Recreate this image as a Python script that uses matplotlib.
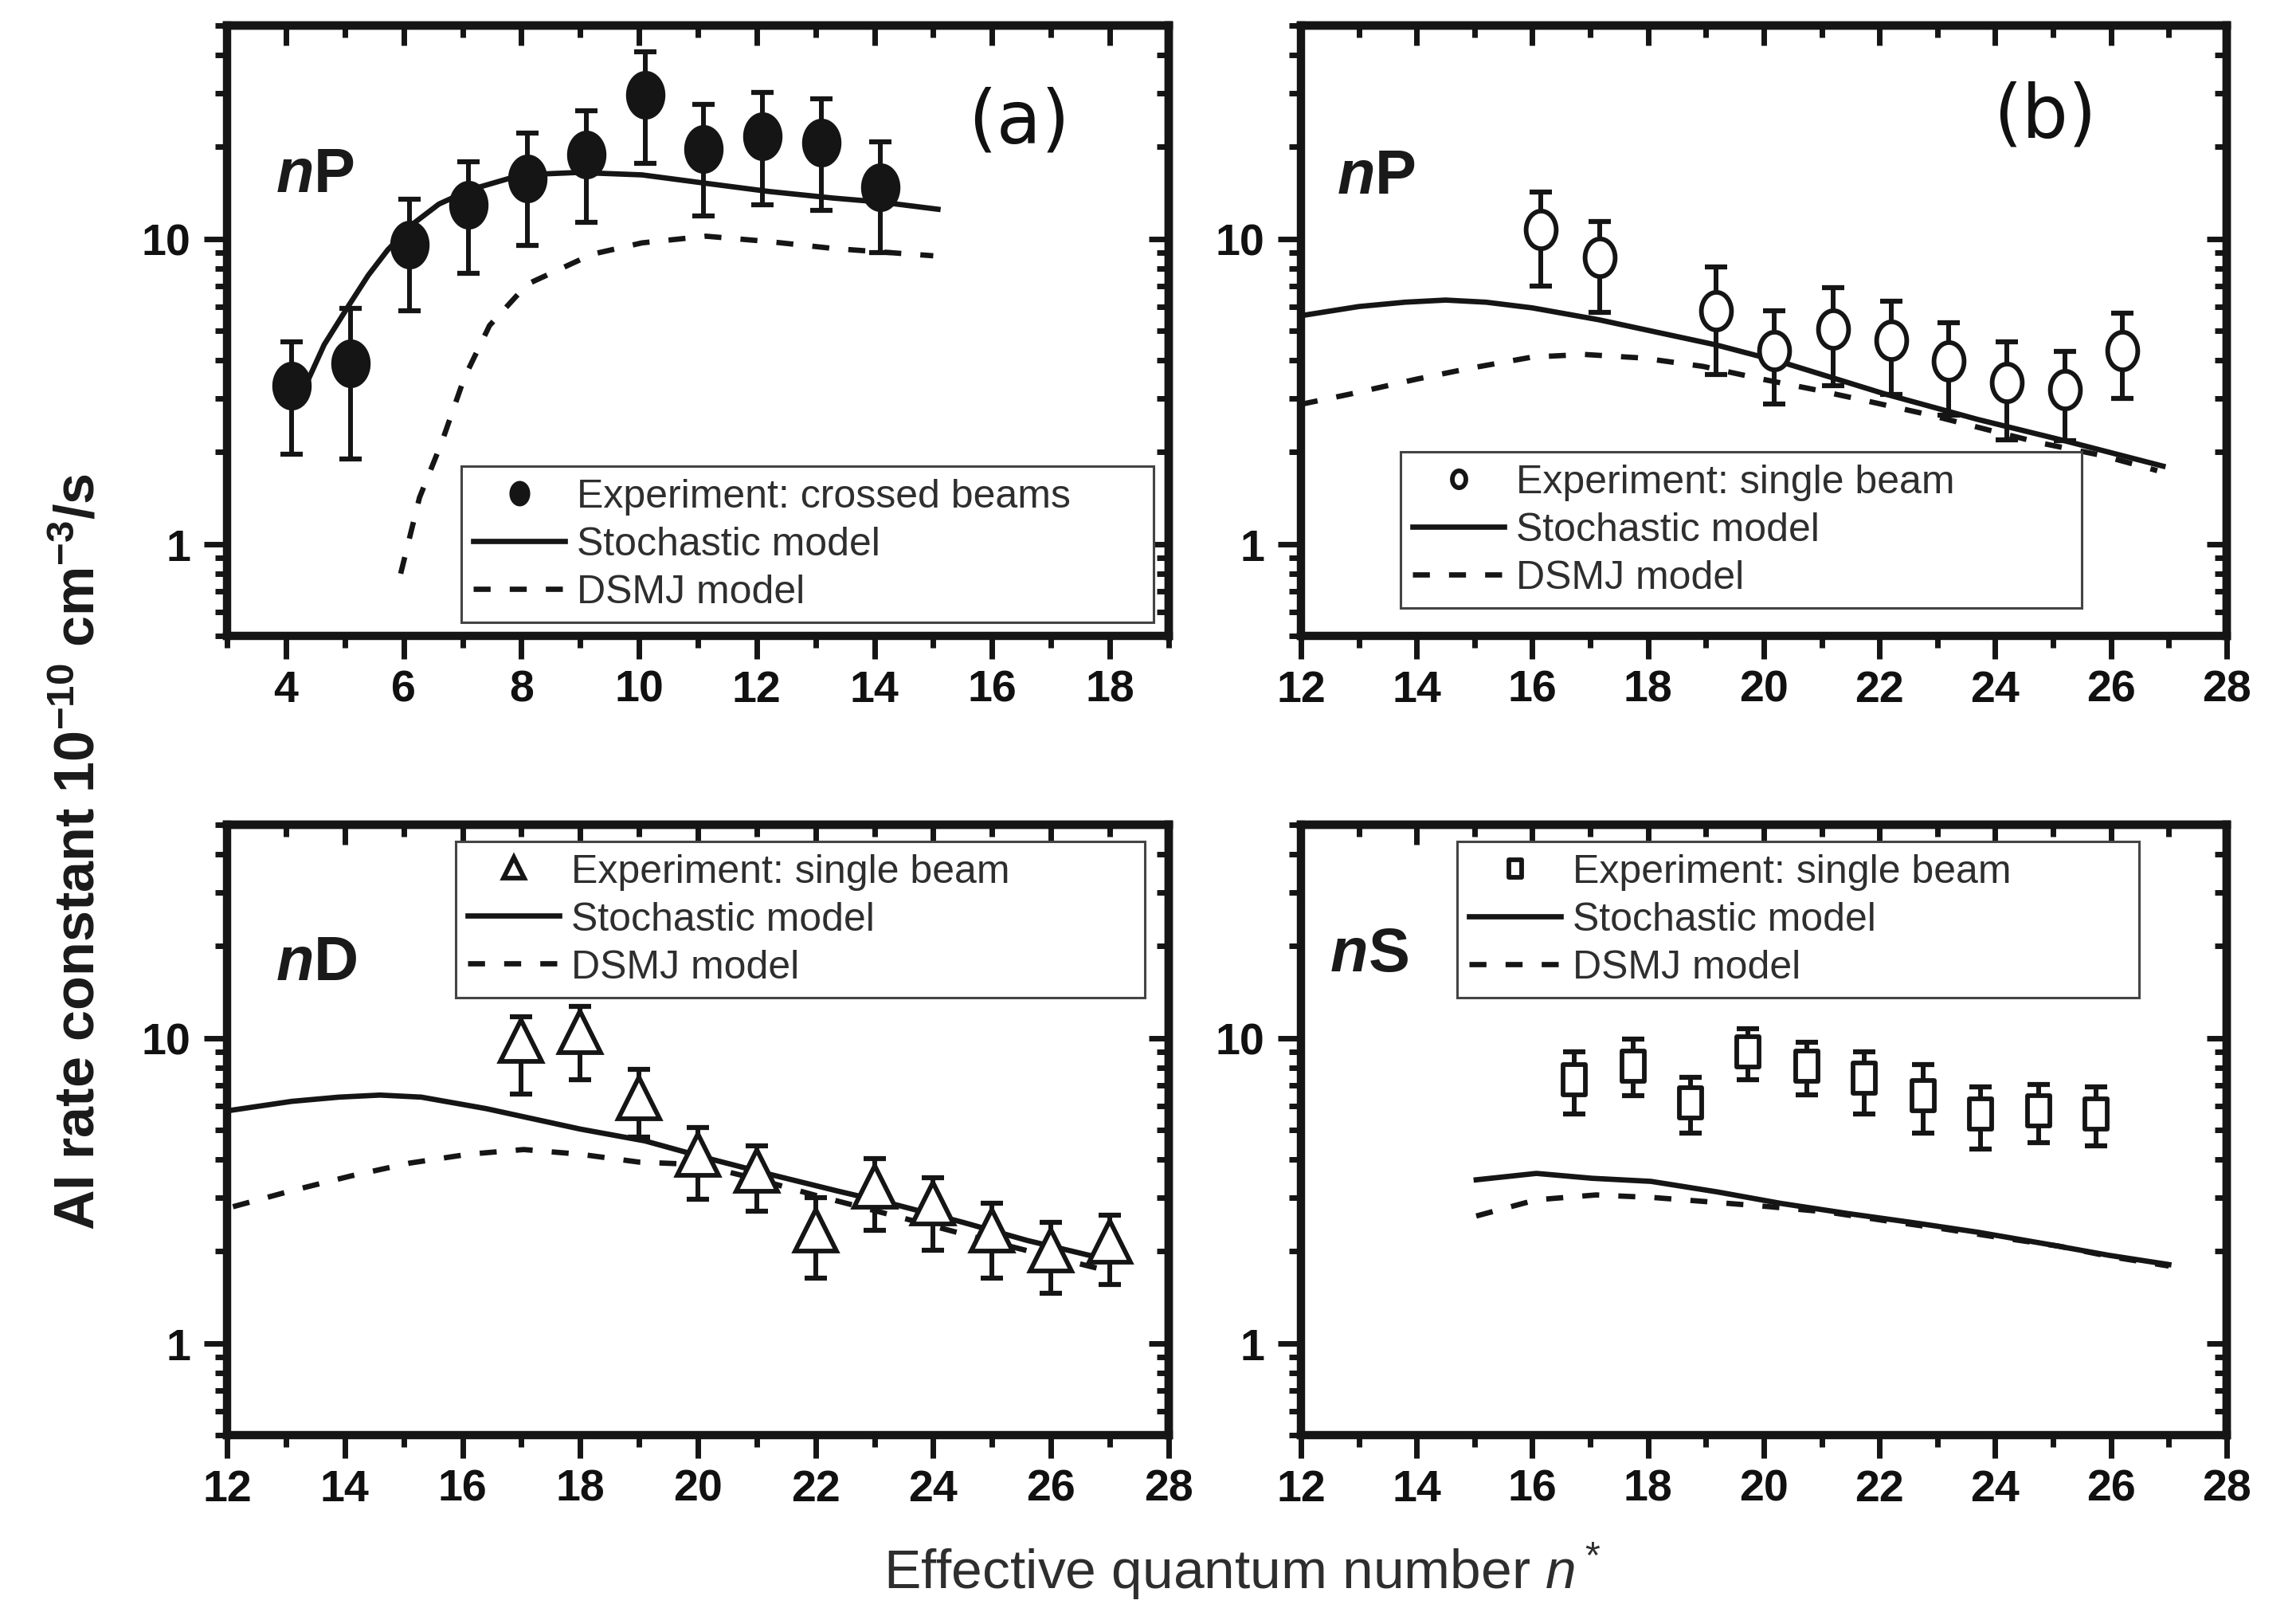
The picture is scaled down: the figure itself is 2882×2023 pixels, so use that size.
import numpy as np
import matplotlib
matplotlib.use("Agg")
import matplotlib.pyplot as plt
from matplotlib import font_manager
from matplotlib.path import Path
from matplotlib.ticker import FixedLocator, MultipleLocator, NullFormatter, FuncFormatter

# the original uses a condensed Helvetica; Liberation Sans Narrow is the closest match
_names = {f.name for f in font_manager.fontManager.ttflist}
if "Liberation Sans Narrow" in _names:
    FONT = "Liberation Sans Narrow"
    SZ_TICK, SZ_LEG, SZ_YLAB, SZ_NAME = 46, 43, 60, 66
else:
    FONT = "Liberation Sans"
    SZ_TICK, SZ_LEG, SZ_YLAB, SZ_NAME = 40, 36, 50.5, 56

plt.rcParams['font.family'] = [FONT, 'Liberation Sans', 'DejaVu Sans']
plt.rcParams['mathtext.fontset'] = 'custom'
plt.rcParams['mathtext.rm'] = FONT
plt.rcParams['mathtext.it'] = 'Liberation Sans:italic'
plt.rcParams['mathtext.bf'] = FONT + ':bold'

# ---------------- data ----------------
# (a) nP, crossed beams
a_n = [4.1, 5.1, 6.1, 7.1, 8.1, 9.1, 10.1, 11.1, 12.1, 13.1, 14.1]
a_k = [3.3, 3.9, 9.6, 12.9, 15.8, 18.9, 29.7, 19.7, 21.7, 20.7, 14.8]
a_hi = [4.6, 5.9, 13.5, 17.9, 22.2, 26.2, 41.1, 27.5, 30.2, 28.8, 20.8]
a_lo = [1.97, 1.9, 5.8, 7.7, 9.5, 11.3, 17.7, 11.9, 12.9, 12.4, 9.0]
a_sto_n = [4.2, 4.65, 5.08, 5.4, 5.73, 6.16, 6.6, 7.14, 8.0, 8.97, 10.05, 11.14, 12.2, 13.3, 14.1, 15.08]
a_sto_k = [2.9, 4.5, 6.1, 7.6, 9.2, 11.2, 13.0, 14.5, 16.2, 16.5, 16.2, 15.2, 14.3, 13.6, 13.2, 12.5]
a_dsmj_n = [5.95, 6.27, 6.65, 7.03, 7.46, 8.1, 9.2, 10.05, 11.14, 12.2, 13.3, 15.0]
a_dsmj_k = [0.8, 1.42, 2.16, 3.5, 5.2, 7.1, 8.9, 9.7, 10.2, 9.8, 9.3, 8.8]

# (b) nP, single beam
b_n = [16.15, 17.17, 19.18, 20.18, 21.2, 22.2, 23.2, 24.2, 25.2, 26.2]
b_k = [10.7, 8.7, 5.8, 4.3, 5.07, 4.66, 3.97, 3.38, 3.2, 4.3]
b_hi = [14.2, 11.4, 8.07, 5.8, 6.9, 6.24, 5.3, 4.6, 4.28, 5.7]
b_lo = [7.0, 5.75, 3.6, 2.87, 3.3, 3.1, 2.64, 2.2, 2.18, 3.0]
b_sto_n = [12.0, 13.0, 13.8, 14.5, 15.2, 16.0, 17.15, 19.18, 20.3, 22.1, 23.7, 25.2, 26.9]
b_sto_k = [5.6, 6.0, 6.2, 6.3, 6.2, 5.94, 5.43, 4.49, 3.95, 3.1, 2.56, 2.18, 1.8]
b_dsmj_n = [12.0, 12.85, 14.0, 14.9, 16.0, 16.9, 17.9, 18.95, 19.97, 20.9, 21.9, 22.9, 23.9, 24.8, 25.85, 26.8]
b_dsmj_k = [2.87, 3.1, 3.47, 3.76, 4.1, 4.18, 4.07, 3.82, 3.47, 3.2, 2.91, 2.64, 2.36, 2.14, 1.95, 1.74]

# (c) nD, single beam
c_n = [17, 18, 19, 20, 21, 22, 23, 24, 25, 26, 27]
c_k = [9.8, 10.5, 6.37, 4.16, 3.68, 2.35, 3.26, 2.87, 2.34, 2.02, 2.15]
c_hi = [11.75, 12.7, 7.87, 5.1, 4.43, 3.0, 4.02, 3.48, 2.87, 2.49, 2.62]
c_lo = [6.55, 7.3, 4.74, 2.97, 2.71, 1.63, 2.34, 2.02, 1.63, 1.46, 1.56]
c_sto_n = [12.0, 13.1, 13.9, 14.6, 15.3, 16.4, 18.0, 19.1, 20.2, 21.26, 22.35, 23.4, 24.5, 25.6, 26.9]
c_sto_k = [5.77, 6.2, 6.4, 6.5, 6.4, 5.87, 5.03, 4.6, 4.02, 3.56, 3.16, 2.83, 2.49, 2.17, 1.89]
c_dsmj_n = [12.1, 13.1, 14.1, 15.1, 16.1, 17.04, 18.0, 19.0, 20.0, 21.0, 22.0, 23.0, 24.0, 25.0, 26.0, 27.0]
c_dsmj_k = [2.8, 3.16, 3.53, 3.89, 4.16, 4.31, 4.16, 3.92, 3.85, 3.45, 3.05, 2.72, 2.42, 2.15, 1.92, 1.72]

# (d) nS, single beam
d_n = [16.72, 17.74, 18.73, 19.73, 20.74, 21.73, 22.75, 23.74, 24.75, 25.74]
d_k = [7.3, 8.06, 6.13, 9.0, 8.06, 7.38, 6.47, 5.62, 5.78, 5.62]
d_hi = [9.0, 9.93, 7.43, 10.7, 9.66, 9.0, 8.2, 6.93, 7.05, 6.93]
d_lo = [5.62, 6.47, 4.89, 7.3, 6.5, 5.62, 4.89, 4.33, 4.53, 4.44]
d_sto_n = [15.03, 16.07, 17.03, 18.05, 19.2, 20.3, 21.45, 22.6, 23.7, 24.84, 25.97, 27.0]
d_sto_k = [3.43, 3.6, 3.47, 3.39, 3.13, 2.87, 2.66, 2.48, 2.31, 2.12, 1.94, 1.81]
d_dsmj_n = [15.03, 16.07, 17.1, 18.1, 19.1, 20.1, 21.1, 22.1, 23.1, 24.0, 25.1, 26.0, 27.0]
d_dsmj_k = [2.61, 2.95, 3.06, 3.0, 2.9, 2.8, 2.69, 2.52, 2.37, 2.23, 2.08, 1.92, 1.79]

y_ticks = [1, 10]
y_ticklabels = ["1", "10"]
y_minor = [0.5, 0.6, 0.7, 0.8, 0.9, 2, 3, 4, 5, 6, 7, 8, 9, 20, 30, 40, 50]
exp_labels = ["Experiment: crossed beams", "Experiment: single beam",
              "Experiment: single beam", "Experiment: single beam"]
series_labels = ["nP", "nP", "nD", "nS"]
panel_tags = ["(a)", "(b)", "(c)", "(d)"]

INK = "#151515"
TXT = "#2e2e2e"

# oval and tall-box markers (the printed symbols are a bit taller than wide)
_t = np.linspace(0, 2 * np.pi, 61)
OVAL = Path(np.column_stack([0.8 * np.cos(_t), np.sin(_t)]), closed=True)
TALLBOX = Path([(-0.72, -1), (0.72, -1), (0.72, 1), (-0.72, 1), (-0.72, -1)], closed=True)

fig = plt.figure(figsize=(28.82, 20.24), dpi=100)
fig.patch.set_facecolor("white")

boxes = [[0.0989, 0.6052, 0.4101, 0.3785],
         [0.5666, 0.6052, 0.4032, 0.3785],
         [0.0989, 0.1097, 0.4101, 0.3785],
         [0.5666, 0.1097, 0.4032, 0.3785]]
xlims = [(3, 19), (12, 28), (12, 28), (12, 28)]


def style_axes(ax, xlim):
    ax.set_yscale("log")
    ax.set_xlim(*xlim)
    ax.set_ylim(0.5, 50)
    for sp in ax.spines.values():
        sp.set_linewidth(7.5)
        sp.set_color(INK)
    ax.xaxis.set_major_locator(MultipleLocator(2))
    ax.xaxis.set_minor_locator(MultipleLocator(1))
    ax.yaxis.set_major_locator(FixedLocator(y_ticks))
    ax.yaxis.set_major_formatter(FuncFormatter(
        lambda v, p: y_ticklabels[y_ticks.index(round(v))] if round(v) in y_ticks else ""))
    ax.yaxis.set_minor_locator(FixedLocator(y_minor))
    ax.yaxis.set_minor_formatter(NullFormatter())
    ax.tick_params(which="major", direction="out", length=21, width=5, color=INK,
                   labelsize=SZ_TICK, pad=9, labelcolor="#111111")
    ax.tick_params(which="minor", direction="out", length=11, width=5, color=INK)
    ax.tick_params(axis="y", which="major", pad=12)
    for lab in ax.get_xticklabels() + ax.get_yticklabels():
        lab.set_fontweight("bold")
    # inward ticks on top and right, like the original plot
    top = ax.secondary_xaxis("top")
    top.xaxis.set_major_locator(MultipleLocator(2))
    top.xaxis.set_minor_locator(MultipleLocator(1))
    top.tick_params(which="major", direction="in", length=18, width=5, color=INK, labeltop=False)
    top.tick_params(which="minor", direction="in", length=11, width=5, color=INK)
    top.spines["top"].set_linewidth(7.5)
    right = ax.secondary_yaxis("right")
    right.yaxis.set_major_locator(FixedLocator(y_ticks))
    right.yaxis.set_minor_locator(FixedLocator(y_minor))
    right.yaxis.set_minor_formatter(NullFormatter())
    right.tick_params(which="major", direction="in", length=18, width=5, color=INK, labelright=False)
    right.tick_params(which="minor", direction="in", length=11, width=5, color=INK)
    right.spines["right"].set_linewidth(7.5)


def draw_panel(ax, n, k, lo, hi, sto_n, sto_k, dsmj_n, dsmj_k, marker, face, ms, mew, lab):
    k = np.array(k)
    yerr = [k - np.array(lo), np.array(hi) - k]
    ax.errorbar(n, k, yerr=yerr, fmt="none", ecolor=INK, elinewidth=4.3,
                capsize=10, capthick=4.5, zorder=3)
    ax.plot(n, k, linestyle="none", marker=marker, markersize=ms, markerfacecolor=face,
            markeredgecolor=INK, markeredgewidth=mew, zorder=4, label=lab)
    ax.plot(sto_n, sto_k, color=INK, lw=4.8, zorder=2, label="Stochastic model")
    ax.plot(dsmj_n, dsmj_k, color=INK, lw=4.8, dashes=(3.2, 3.6), zorder=2, label="DSMJ model")


panels = [
    (a_n, a_k, a_lo, a_hi, a_sto_n, a_sto_k, a_dsmj_n, a_dsmj_k, OVAL, INK, 42, 2),
    (b_n, b_k, b_lo, b_hi, b_sto_n, b_sto_k, b_dsmj_n, b_dsmj_k, OVAL, "white", 34, 4.2),
    (c_n, c_k, c_lo, c_hi, c_sto_n, c_sto_k, c_dsmj_n, c_dsmj_k, "^", "white", 37, 4.2),
    (d_n, d_k, d_lo, d_hi, d_sto_n, d_sto_k, d_dsmj_n, d_dsmj_k, TALLBOX, "white", 28, 4.2),
]
legend_anchor = [(0.249, 0.022, 0.735, 0.256), (0.108, 0.041, 0.735, 0.26),
                 (0.243, 0.711, 0.732, 0.262), (0.169, 0.695, 0.736, 0.277)]
legend_scale = [0.5, 0.45, 0.5, 0.55]
tag_pos = [(0.787, 0.843), (0.748, 0.852), (0.797, 0.810), (0.779, 0.800)]
name_pos = [(0.052, 0.728), (0.039, 0.726), (0.052, 0.747), (0.032, 0.761)]

for i, (box, xl, p) in enumerate(zip(boxes, xlims, panels)):
    ax = fig.add_axes(box)
    style_axes(ax, xl)
    draw_panel(ax, *p, exp_labels[i])
    leg = ax.legend(loc="upper left", bbox_to_anchor=legend_anchor[i], mode="expand",
                    fontsize=SZ_LEG, frameon=True, fancybox=False, framealpha=1,
                    edgecolor="#444444", borderpad=0.3, labelspacing=0.28,
                    handlelength=2.3, handletextpad=0.3, borderaxespad=0,
                    markerscale=legend_scale[i])
    leg.get_frame().set_linewidth(2.2)
    for t in leg.get_texts():
        t.set_color(TXT)
    ax.text(tag_pos[i][0], tag_pos[i][1], panel_tags[i], transform=ax.transAxes,
            fontsize=66, family="DejaVu Sans", va="center", ha="left", color="#111111")
    tn = ax.text(name_pos[i][0], name_pos[i][1], series_labels[i][0], transform=ax.transAxes,
                 fontsize=SZ_NAME, fontweight="bold", fontstyle="italic", va="baseline",
                 ha="left", color="#1a1a1a")
    ax.annotate(series_labels[i][1], xy=(1, 0), xycoords=tn, va="bottom", ha="left",
                fontsize=SZ_NAME, fontweight="bold", color="#1a1a1a")

fig.text(0.0347, 0.472, r"AI rate constant 10$^{\mathbf{-10}}$ cm$^{\mathbf{-3}}$/s",
         rotation=90, fontsize=SZ_YLAB, fontweight="bold", va="center", ha="center",
         color="#1a1a1a")
fig.text(0.541, 0.026, r"Effective quantum number $n^*$", fontsize=50,
         family="Liberation Sans", va="center", ha="center", color=TXT)

fig.savefig("out.png", dpi=100)
